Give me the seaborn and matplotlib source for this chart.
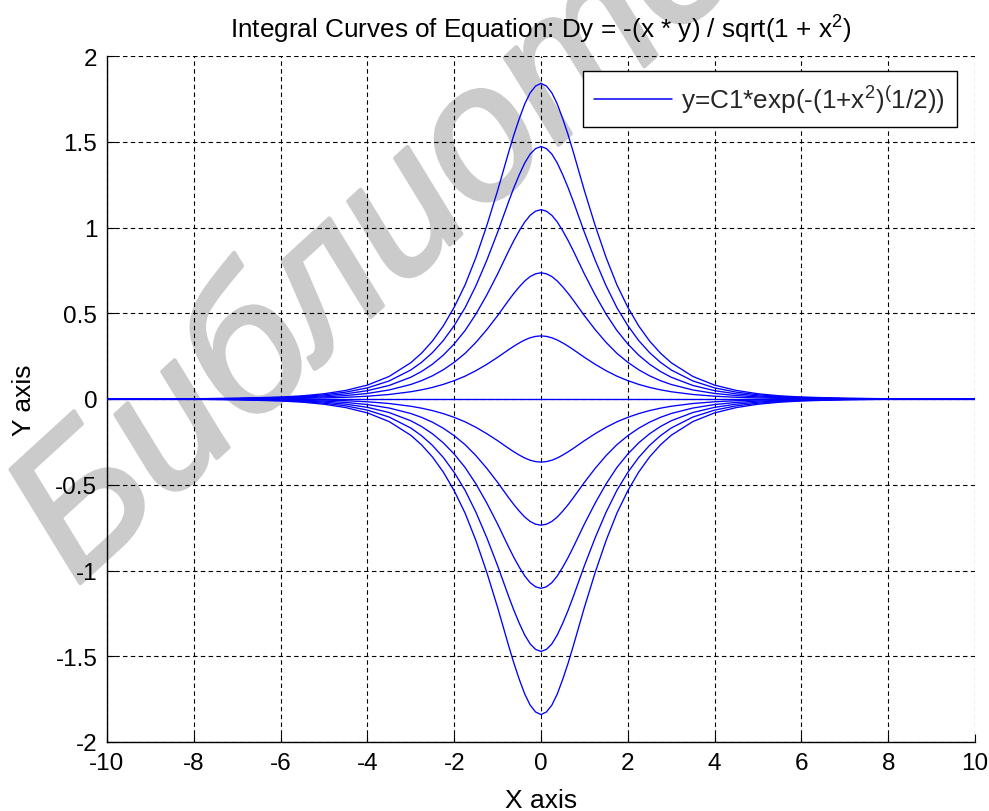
import numpy as np
import pandas as pd
import matplotlib
matplotlib.use("Agg")
import matplotlib.pyplot as plt
import matplotlib.patheffects as pe
import seaborn as sns
from matplotlib.lines import Line2D

# ---- data ----
x_vals = [-10, -9, -8, -7, -6, -5.5, -5, -4.5, -4, -3.5, -3, -2.75, -2.5, -2.25,
          -2, -1.75, -1.5, -1.25, -1, -0.875, -0.75, -0.625, -0.5, -0.375,
          -0.25, -0.125, 0, 0.125, 0.25, 0.375, 0.5, 0.625, 0.75, 0.875,
          1, 1.25, 1.5, 1.75, 2, 2.25, 2.5, 2.75, 3, 3.5, 4, 4.5, 5, 5.5, 6,
          7, 8, 9, 10]
# shape of the C1 = 1 curve (peak 0.368 at x = 0)
unit_curve = [0.00004, 0.00012, 0.00032, 0.00085, 0.0023, 0.0037, 0.0061, 0.0100,
              0.0162, 0.0263, 0.0423, 0.0536, 0.0677, 0.0853, 0.107, 0.133,
              0.165, 0.202, 0.243, 0.265, 0.287, 0.308, 0.327, 0.344,
              0.357, 0.365, 0.368, 0.365, 0.357, 0.344, 0.327, 0.308, 0.287,
              0.265, 0.243, 0.202, 0.165, 0.133, 0.107, 0.0853, 0.0677, 0.0536,
              0.0423, 0.0263, 0.0162, 0.0100, 0.0061, 0.0037, 0.0023, 0.00085,
              0.00032, 0.00012, 0.00004]
c1_values = [5, 4, 3, 2, 1, 0, -1, -2, -3, -4, -5]
x_ticks = [-10, -8, -6, -4, -2, 0, 2, 4, 6, 8, 10]
y_ticks = [-2, -1.5, -1, -0.5, 0, 0.5, 1, 1.5, 2]
y_tick_labels = ["-2", "-1.5", "-1", "-0.5", "0", "0.5", "1", "1.5", "2"]

title = r"Integral Curves of Equation: Dy = -(x * y) / sqrt(1 + x$^2$)"
legend_label = r"y=C1*exp(-(1+x$^2$)$^{(}$1/2))"
watermark = "Библиотека"

rows = []
for c in c1_values:
    for xv, u in zip(x_vals, unit_curve):
        rows.append({"C1": c, "x": xv, "y": c * u})
df = pd.DataFrame(rows)

# ---- style ----
sns.set_style("white")
plt.rcParams["font.family"] = ["Liberation Sans", "DejaVu Sans"]
plt.rcParams["mathtext.fontset"] = "custom"
plt.rcParams["mathtext.rm"] = "Liberation Sans"
plt.rcParams["mathtext.it"] = "Liberation Sans"
plt.rcParams["mathtext.default"] = "regular"

W, H = 989, 812
fig = plt.figure(figsize=(W / 100, H / 100), dpi=100)
fig.patch.set_facecolor("white")
ax = fig.add_axes([107 / W, 1 - 743 / H, 868 / W, 686 / H])
ax.set_facecolor("none")
ax.set_zorder(1)

# watermark
wm_color = "#cbcbcb"
fig.text(76 / W, 1 - 588 / H, watermark, fontsize=137, style="italic",
         color=wm_color, rotation=42.5, ha="left", va="baseline",
         rotation_mode="anchor", zorder=-5,
         family=["Liberation Sans", "DejaVu Sans"],
         path_effects=[pe.withStroke(linewidth=3, foreground=wm_color)])

palette = {c: (0, 0, 1) for c in c1_values}
sns.lineplot(data=df, x="x", y="y", hue="C1", units="C1", estimator=None,
             palette=palette, sort=False, legend=False, linewidth=0.95, ax=ax,
             zorder=3)

ax.set_xlim(-10, 10)
ax.set_ylim(-2, 2)
ax.set_xticks(x_ticks)
ax.set_xticklabels([str(t) for t in x_ticks])
ax.set_yticks(y_ticks)
ax.set_yticklabels(y_tick_labels)

ax.grid(True, color="black", linestyle=(0, (4, 3)), linewidth=0.8, zorder=1)
ax.set_axisbelow(True)

for s in ["top", "right"]:
    ax.spines[s].set_visible(False)
for s in ["left", "bottom"]:
    ax.spines[s].set_color("black")
    ax.spines[s].set_linewidth(1.0)

ax.tick_params(axis="both", direction="in", length=6, width=0.8, colors="black",
               labelsize=17.5, pad=7, bottom=True, left=True)

ax.set_title(title, fontsize=18.8, pad=13, color="black")
ax.set_xlabel("X axis", fontsize=19, labelpad=10, color="black")
ax.set_ylabel("Y axis", fontsize=19, labelpad=14, color="black")

handle = Line2D([0], [0], color=(0, 0, 1), linewidth=1.1)
leg = ax.legend([handle], [legend_label], loc="upper right",
                bbox_to_anchor=((957 - 107) / 868, (743 - 72) / 686),
                borderaxespad=0, fontsize=18.8, frameon=True, fancybox=False,
                shadow=False, handlelength=2.95, handletextpad=0.38,
                borderpad=0.45)
leg.get_frame().set_edgecolor("black")
leg.get_frame().set_linewidth(1.0)
leg.get_frame().set_facecolor("white")
leg.get_frame().set_alpha(1)
leg.set_zorder(5)

fig.savefig("out.png", dpi=100, facecolor="white")
